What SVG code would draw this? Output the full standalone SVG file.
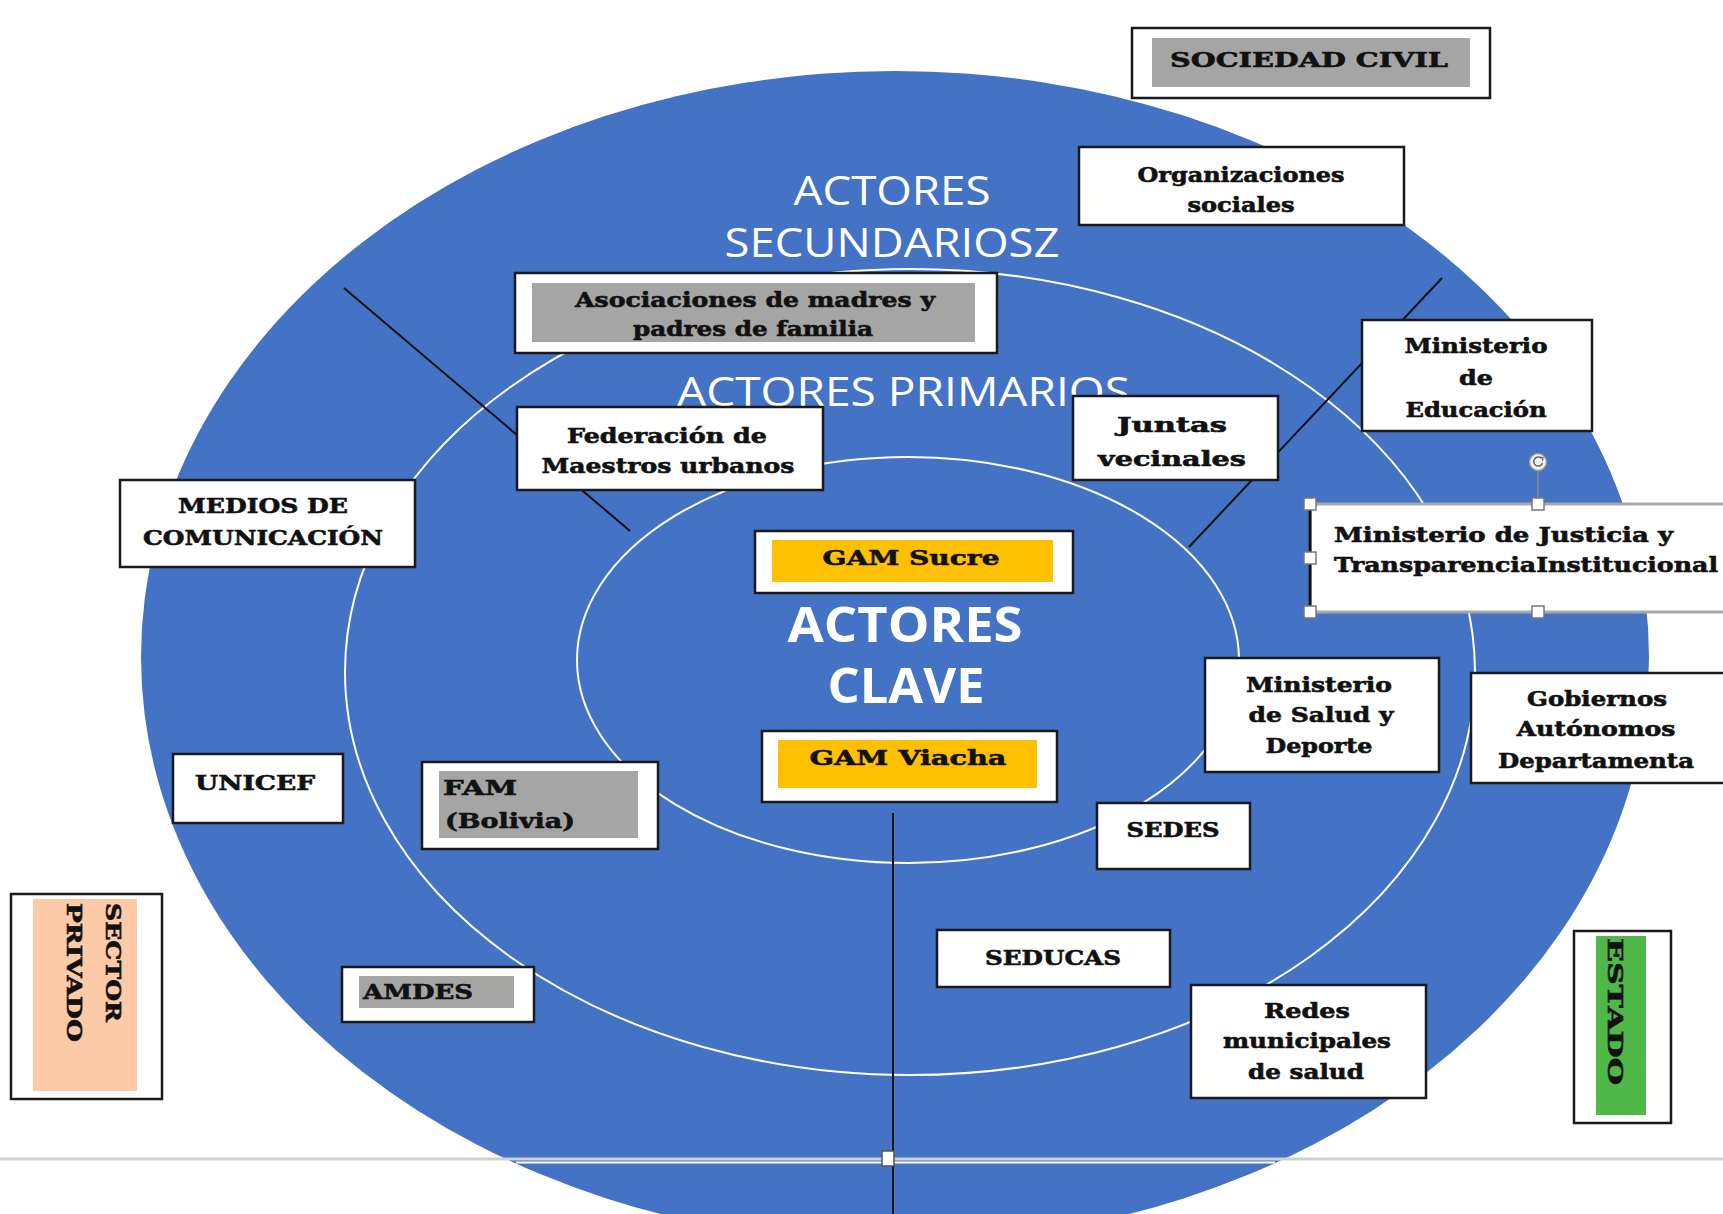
<svg xmlns="http://www.w3.org/2000/svg" width="1723" height="1214" viewBox="0 0 1723 1214">
<style>
.box{fill:#fff;stroke:#1a1a1a;stroke-width:2.5}
.gray{fill:#a5a5a5}
.yel{fill:#ffc000}
.t{font-family:"DejaVu Serif","Liberation Serif",serif;font-weight:bold;fill:#111;stroke:#111;stroke-width:0.6;font-size:21px}
.c{text-anchor:middle}
.title{font-family:"Open Sans","Liberation Sans",sans-serif;fill:#fff}
.ring{fill:none;stroke:#fff;stroke-width:2}
.sec{stroke:#111;stroke-width:2;fill:none}
.hdl{fill:#fff;stroke:#777;stroke-width:1.5}
</style>
<rect width="1723" height="1214" fill="#fff"/>
<g id="rings">
<ellipse cx="895" cy="657" rx="754" ry="586" fill="#4472c4"/>
<ellipse class="ring" cx="910" cy="672" rx="565" ry="403"/>
<ellipse class="ring" cx="908" cy="660" rx="331" ry="203"/>
</g>
<g id="titles">
<text class="title c" x="892" y="205" font-size="40" textLength="197" lengthAdjust="spacingAndGlyphs">ACTORES</text>
<text class="title c" x="892" y="257" font-size="40" textLength="335" lengthAdjust="spacingAndGlyphs">SECUNDARIOSZ</text>
<text class="title" x="677" y="406" font-size="41" textLength="453" lengthAdjust="spacingAndGlyphs">ACTORES PRIMARIOS</text>
<text class="title c" x="905" y="642" font-size="49" font-weight="bold" textLength="235" lengthAdjust="spacingAndGlyphs">ACTORES</text>
<text class="title c" x="906" y="703" font-size="49" font-weight="bold" textLength="157" lengthAdjust="spacingAndGlyphs">CLAVE</text>
</g>
<g id="connectors">
<line class="sec" x1="344" y1="288" x2="630" y2="531"/>
<line class="sec" x1="1442" y1="278" x2="1189" y2="547"/>
<line class="sec" x1="893" y1="813" x2="893" y2="1214"/>
</g>
<g id="page-break">
<line x1="0" y1="1159" x2="1723" y2="1159" stroke="#cfcfcf" stroke-width="3"/>
<line x1="516" y1="1162.5" x2="1275" y2="1162.5" stroke="#fff" stroke-width="2"/>
<rect x="882" y="1151" width="12" height="15" fill="#fff" stroke="#555" stroke-width="1.5"/>
</g>
<g id="sociedad-civil">
<rect class="box" x="1132" y="28" width="358" height="70"/>
<rect class="gray" x="1152" y="38" width="318" height="49"/>
<text class="t c" x="1309" y="67" font-size="31" textLength="278" lengthAdjust="spacingAndGlyphs">SOCIEDAD CIVIL</text>
</g>
<g id="organizaciones-sociales">
<rect class="box" x="1079" y="147" width="325" height="78"/>
<text class="t c" x="1241" y="182" textLength="207" lengthAdjust="spacingAndGlyphs">Organizaciones</text>
<text class="t c" x="1241" y="212" textLength="107" lengthAdjust="spacingAndGlyphs">sociales</text>
</g>
<g id="asociaciones">
<rect class="box" x="515" y="273" width="482" height="80"/>
<rect class="gray" x="532" y="283" width="443" height="59"/>
<text class="t c" x="755" y="307" textLength="360" lengthAdjust="spacingAndGlyphs">Asociaciones  de madres y</text>
<text class="t c" x="753" y="336" textLength="240" lengthAdjust="spacingAndGlyphs">padres de familia</text>
</g>
<g id="federacion">
<rect class="box" x="517" y="407" width="306" height="83"/>
<text class="t c" x="667" y="443" textLength="200" lengthAdjust="spacingAndGlyphs">Federación de</text>
<text class="t c" x="668" y="473" textLength="253" lengthAdjust="spacingAndGlyphs">Maestros urbanos</text>
</g>
<g id="juntas-vecinales">
<rect class="box" x="1073" y="396" width="205" height="84"/>
<text class="t c" x="1172" y="432" font-size="25" textLength="110" lengthAdjust="spacingAndGlyphs">Juntas</text>
<text class="t c" x="1172" y="466" font-size="25" textLength="148" lengthAdjust="spacingAndGlyphs">vecinales</text>
</g>
<g id="ministerio-educacion">
<rect class="box" x="1362" y="320" width="230" height="111"/>
<text class="t c" x="1476" y="353" textLength="143" lengthAdjust="spacingAndGlyphs">Ministerio</text>
<text class="t c" x="1476" y="385" textLength="34" lengthAdjust="spacingAndGlyphs">de</text>
<text class="t c" x="1476" y="417" textLength="141" lengthAdjust="spacingAndGlyphs">Educación</text>
</g>
<g id="ministerio-justicia">
<rect x="1310" y="504" width="430" height="108" fill="#fff" stroke="#a8a8a8" stroke-width="3"/>
<line x1="1310" y1="504" x2="1310" y2="612" stroke="#111" stroke-width="3"/>
<text class="t" x="1334" y="542" textLength="339" lengthAdjust="spacingAndGlyphs">Ministerio  de Justicia  y</text>
<text class="t" x="1334" y="572" textLength="384" lengthAdjust="spacingAndGlyphs">TransparenciaInstitucional</text>
<line x1="1538" y1="470" x2="1538" y2="498" stroke="#888" stroke-width="1.5"/>
<circle cx="1538" cy="462" r="8.5" fill="#f2f2f2" stroke="#999" stroke-width="1.5"/>
<path d="M1541.5 458.5 A4.5 4.5 0 1 0 1542.5 463" fill="none" stroke="#666" stroke-width="1.5"/>
<path d="M1539.5 457 L1543 457.5 L1542.5 461" fill="none" stroke="#666" stroke-width="1.2"/>
<rect class="hdl" x="1304" y="498" width="12" height="12"/>
<rect class="hdl" x="1304" y="552" width="12" height="12"/>
<rect class="hdl" x="1304" y="606" width="12" height="12"/>
<rect class="hdl" x="1532" y="498" width="12" height="12"/>
<rect class="hdl" x="1532" y="606" width="12" height="12"/>
</g>
<g id="medios-comunicacion">
<rect class="box" x="120" y="480" width="295" height="87"/>
<text class="t c" x="263" y="513" textLength="170" lengthAdjust="spacingAndGlyphs">MEDIOS DE</text>
<text class="t c" x="263" y="545" textLength="240" lengthAdjust="spacingAndGlyphs">COMUNICACIÓN</text>
</g>
<g id="gam-sucre">
<rect class="box" x="755" y="531" width="318" height="62"/>
<rect class="yel" x="772" y="540" width="281" height="42"/>
<text class="t c" x="911" y="565" font-size="22" textLength="177" lengthAdjust="spacingAndGlyphs">GAM Sucre</text>
</g>
<g id="gam-viacha">
<rect class="box" x="762" y="731" width="295" height="71"/>
<rect class="yel" x="778" y="740" width="259" height="48"/>
<text class="t c" x="908" y="765" font-size="22" textLength="197" lengthAdjust="spacingAndGlyphs">GAM Viacha</text>
</g>
<g id="ministerio-salud">
<rect class="box" x="1205" y="658" width="234" height="114"/>
<text class="t c" x="1319" y="692" textLength="146" lengthAdjust="spacingAndGlyphs">Ministerio</text>
<text class="t c" x="1321" y="722" textLength="145" lengthAdjust="spacingAndGlyphs">de Salud y</text>
<text class="t c" x="1319" y="753" textLength="107" lengthAdjust="spacingAndGlyphs">Deporte</text>
</g>
<g id="gobiernos-autonomos">
<rect class="box" x="1471" y="673" width="262" height="110"/>
<text class="t c" x="1597" y="706" textLength="140" lengthAdjust="spacingAndGlyphs">Gobiernos</text>
<text class="t c" x="1596" y="736" textLength="159" lengthAdjust="spacingAndGlyphs">Autónomos</text>
<text class="t c" x="1596" y="768" textLength="196" lengthAdjust="spacingAndGlyphs">Departamenta</text>
</g>
<g id="sedes">
<rect class="box" x="1097" y="803" width="153" height="66"/>
<text class="t c" x="1173" y="837" textLength="93" lengthAdjust="spacingAndGlyphs">SEDES</text>
</g>
<g id="seducas">
<rect class="box" x="937" y="930" width="233" height="57"/>
<text class="t c" x="1053" y="965" textLength="136" lengthAdjust="spacingAndGlyphs">SEDUCAS</text>
</g>
<g id="redes-municipales">
<rect class="box" x="1191" y="985" width="235" height="113"/>
<text class="t c" x="1307" y="1018" textLength="86" lengthAdjust="spacingAndGlyphs">Redes</text>
<text class="t c" x="1307" y="1048" textLength="168" lengthAdjust="spacingAndGlyphs">municipales</text>
<text class="t c" x="1306" y="1079" textLength="116" lengthAdjust="spacingAndGlyphs">de salud</text>
</g>
<g id="unicef">
<rect class="box" x="173" y="754" width="170" height="69"/>
<text class="t c" x="255" y="790" font-size="22" textLength="120" lengthAdjust="spacingAndGlyphs">UNICEF</text>
</g>
<g id="fam-bolivia">
<rect class="box" x="422" y="762" width="236" height="87"/>
<rect class="gray" x="439" y="771" width="199" height="67"/>
<text class="t" x="443" y="795" textLength="74" lengthAdjust="spacingAndGlyphs">FAM</text>
<text class="t" x="445" y="828" textLength="130" lengthAdjust="spacingAndGlyphs">(Bolivia)</text>
</g>
<g id="amdes">
<rect class="box" x="342" y="967" width="192" height="55"/>
<rect class="gray" x="359" y="976" width="155" height="32"/>
<text class="t" x="363" y="999" textLength="110" lengthAdjust="spacingAndGlyphs">AMDES</text>
</g>
<g id="sector-privado">
<rect class="box" x="11" y="894" width="151" height="205"/>
<rect x="33" y="899" width="104" height="192" fill="#fdcaa8"/>
<text class="t" transform="translate(106 903) rotate(90)" font-size="27" textLength="119" lengthAdjust="spacingAndGlyphs">SECTOR</text>
<text class="t" transform="translate(67 903) rotate(90)" font-size="27" textLength="139" lengthAdjust="spacingAndGlyphs">PRIVADO</text>
</g>
<g id="estado">
<rect class="box" x="1574" y="931" width="97" height="192"/>
<rect x="1596" y="936" width="50" height="179" fill="#50b848"/>
<text class="t" transform="translate(1608 938) rotate(90)" font-size="38" textLength="147" lengthAdjust="spacingAndGlyphs">ESTADO</text>
</g>
</svg>
